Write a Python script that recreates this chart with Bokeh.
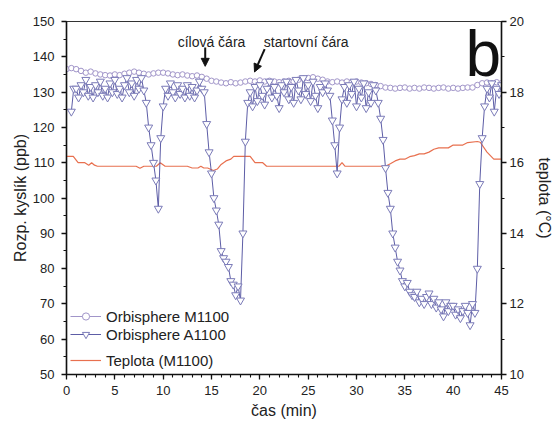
from bokeh.plotting import figure
from bokeh.models import (Range1d, LinearAxis, Legend, LegendItem, Arrow, NormalHead,
                          SingleIntervalTicker, Label)
from bokeh.embed import file_html
from bokeh.resources import INLINE

# ---------------- data ----------------
# Orbisphere M1100 (ppb), sampled every 0.5 min from 0 to 45
m1100_start = 0.0
m1100_step = 0.5
m1100 = [136.5, 136.8, 136.5, 136.0, 135.5, 135.8, 135.3, 135.0, 134.8, 134.7,
         135.0, 134.8, 135.2, 135.5, 135.8, 135.5, 135.2, 135.0, 135.3, 135.5,
         135.5, 135.3, 135.0, 134.8, 135.0, 134.7, 134.5, 134.7, 134.3, 133.8,
         133.2, 133.0, 132.7, 132.5, 132.8, 132.5, 132.7, 133.0, 133.2, 133.0,
         133.3, 133.0, 133.2, 133.0, 132.8, 133.0, 133.2, 133.0, 133.5, 133.8,
         134.0, 134.2, 133.8, 133.5, 133.0, 132.8, 133.0, 132.7, 133.0, 132.8,
         133.0, 132.7, 132.5, 132.3, 132.0, 131.7, 131.3, 131.2, 131.0, 131.2,
         131.3, 131.0, 131.2, 131.0, 131.3, 131.2, 131.0, 131.2, 131.3, 131.0,
         131.2, 131.0, 131.2, 131.3, 131.3, 132.0, 132.5, 132.7, 132.5, 132.8,
         132.5]

# Orbisphere A1100 (ppb), sampled every 0.25 min from 0.5 min
a1100_start = 0.5
a1100_step = 0.25
a1100 = [124.5, 131.0,
         131.0, 128.5, 132.0, 130.0,
         133.5, 129.0, 131.5, 128.5,
         132.0, 130.0, 133.0, 129.0,
         131.0, 128.5, 132.5, 130.0,
         133.5, 129.5, 131.0, 128.5,
         132.0, 134.0, 130.0, 132.5,
         129.0, 133.5, 131.0, 134.0,
         130.5, 127.0, 120.0, 115.0,
         110.0, 105.0, 97.0, 117.0,
         126.0, 131.0, 129.0, 132.5,
         130.0, 128.5, 132.0, 129.5,
         131.0, 128.5, 132.0, 129.0,
         131.5, 128.5, 130.5, 133.0,
         131.0, 130.0, 121.0, 113.0,
         107.0, 100.0, 96.5, 92.5,
         85.0, 83.0, 82.0, 80.5,
         76.5, 75.5, 72.5, 75.0,
         71.0, 90.0, 116.0, 127.0,
         130.0, 126.0, 131.5, 127.5,
         132.0, 129.0, 126.5, 131.0,
         133.0, 128.5, 131.5, 129.0,
         125.5, 132.0, 130.0, 133.0,
         128.0, 131.5, 127.0, 133.5,
         130.5, 128.0, 134.0, 129.5,
         132.0, 127.5, 133.0, 129.0,
         125.5, 131.5, 130.0, 132.5,
         130.5, 129.0, 122.0, 115.0,
         107.0, 120.0, 128.0, 131.5,
         127.0, 132.0, 129.5, 133.0,
         126.0, 131.0, 128.5, 132.5,
         125.5, 130.0, 127.0, 132.0,
         130.5, 127.0, 122.5, 116.5,
         108.5, 101.5, 97.0, 90.0,
         86.0, 82.0, 79.5, 76.5,
         75.0, 76.0, 73.5, 72.5,
         72.0, 73.5, 70.5, 71.5,
         70.0, 72.0, 73.0, 70.0,
         71.5, 69.0, 70.5, 68.5,
         66.5, 70.5, 68.0, 69.5,
         69.5, 67.0, 68.5, 66.0,
         68.0, 69.5, 67.5, 64.0,
         70.0, 67.5, 80.0, 104.0,
         117.0, 126.0, 131.0, 128.5,
         132.5, 124.5, 131.0, 129.5,
         132.0]

# Temperature (M1100), degC, breakpoints
temp_t = [0.0, 0.7, 1.2, 1.9, 2.3, 2.6, 2.9, 3.2, 7.2, 7.6,
          8.0, 9.3, 9.7, 10.2, 12.5, 13.0, 13.6, 13.9, 14.2, 14.6,
          15.2, 15.6, 16.0, 16.5, 17.0, 17.3, 19.0, 19.5, 20.3, 20.7,
          28.2, 28.5, 28.8, 33.0, 33.5, 34.0, 34.5, 35.0, 35.5, 36.0,
          36.5, 37.0, 37.5, 38.0, 38.5, 39.5, 40.0, 41.0, 41.5, 42.5,
          42.8, 43.5, 44.2, 45.0]
temp_v = [16.18, 16.18, 16.0, 16.0, 15.93, 16.0, 15.93, 15.9, 15.9, 15.84,
          15.9, 15.9, 16.0, 15.9, 15.9, 15.85, 15.85, 15.9, 15.85, 15.85,
          15.78, 15.82, 15.95, 16.05, 16.1, 16.18, 16.18, 16.0, 16.0, 15.9,
          15.9, 16.0, 15.9, 15.9, 15.97, 16.05, 16.1, 16.1, 16.17, 16.2,
          16.25, 16.25, 16.3, 16.38, 16.42, 16.42, 16.5, 16.5, 16.57, 16.6,
          16.58, 16.3, 16.1, 16.1]

m1100_t = [m1100_start + i * m1100_step for i in range(len(m1100))]
a1100_t = [a1100_start + i * a1100_step for i in range(len(a1100))]

FONT = "Liberation Sans"
C_M = "#a195c9"
C_A = "#5d5da6"
C_T = "#e8704f"

p = figure(width=555, height=425, output_backend="svg", toolbar_location=None,
           x_range=Range1d(0, 45), y_range=Range1d(50, 150),
           min_border_left=66, min_border_right=52, min_border_top=21,
           min_border_bottom=51)
p.extra_y_ranges = {"temp": Range1d(10, 20)}
p.grid.visible = False
p.outline_line_color = "#333333"
p.outline_line_width = 1.2
p.background_fill_color = "white"
p.border_fill_color = "white"

# temperature
rt = p.line(temp_t, temp_v, y_range_name="temp", line_color=C_T, line_width=1.2)

# M1100
rm_l = p.line(m1100_t, m1100, line_color=C_M, line_width=1)
rm_s = p.scatter(m1100_t, m1100, marker="circle", size=5.5, line_color=C_M,
                 fill_color="white", line_width=1)

# A1100
ra_l = p.line(a1100_t, a1100, line_color=C_A, line_width=1)
ra_s = p.scatter(a1100_t, a1100, marker="inverted_triangle", size=8, line_color="#7b7bb8",
                 fill_color="white", line_width=1)

# axes styling
def style_axis(ax, label, lab_standoff, axlab_standoff):
    ax.axis_label = label
    ax.axis_label_text_font = FONT
    ax.axis_label_text_font_size = "16px"
    ax.axis_label_text_font_style = "normal"
    ax.axis_label_text_color = "#222222"
    ax.major_label_text_font = FONT
    ax.major_label_text_font_size = "13px"
    ax.major_label_text_color = "#222222"
    ax.axis_line_color = "#111111"
    ax.axis_line_width = 1.5
    ax.major_tick_line_color = "#111111"
    ax.minor_tick_line_color = "#111111"
    ax.major_tick_line_width = 1.3
    ax.minor_tick_line_width = 1.1
    ax.major_tick_in = 0
    ax.major_tick_out = 5
    ax.minor_tick_in = 0
    ax.minor_tick_out = 3
    ax.major_label_standoff = lab_standoff
    ax.axis_label_standoff = axlab_standoff

xa = p.xaxis[0]
xa.ticker = SingleIntervalTicker(interval=5, num_minor_ticks=5)
style_axis(xa, "čas (min)", 6, 4)

ya = p.yaxis[0]
ya.ticker = SingleIntervalTicker(interval=10, num_minor_ticks=2)
style_axis(ya, "Rozp. kyslík (ppb)", 7, 1)

ra = LinearAxis(y_range_name="temp")
ra.ticker = SingleIntervalTicker(interval=2, num_minor_ticks=2)
style_axis(ra, "teplota (°C)", 3, 9)
p.add_layout(ra, "right")

# annotations
p.add_layout(Label(x=15.0, y=144.3, text="cílová čára", text_font=FONT,
                   text_font_size="14px", text_align="center", text_baseline="middle",
                   text_color="#222222"))
p.add_layout(Label(x=24.8, y=144.3, text="startovní čára", text_font=FONT,
                   text_font_size="14px", text_align="center", text_baseline="middle",
                   text_color="#222222"))
p.add_layout(Arrow(x_start=14.35, y_start=142.6, x_end=14.35, y_end=137.3,
                   line_color="#111111", line_width=2,
                   end=NormalHead(size=8, fill_color="#111111", line_color="#111111")))
p.add_layout(Arrow(x_start=20.5, y_start=142.2, x_end=19.45, y_end=135.7,
                   line_color="#111111", line_width=2,
                   end=NormalHead(size=8, fill_color="#111111", line_color="#111111")))
p.add_layout(Label(x=44.95, y=140.9, text="b", text_font=FONT, text_font_size="64px",
                   text_align="right", text_baseline="alphabetic", text_color="#111111"))

# legends
leg1 = Legend(items=[LegendItem(label="Orbisphere M1100", renderers=[rm_l, rm_s]),
                     LegendItem(label="Orbisphere A1100", renderers=[ra_l, ra_s])],
              location=(4, 31))
leg2 = Legend(items=[LegendItem(label="Teplota (M1100)", renderers=[rt])],
              location=(4, 5))
for lg in (leg1, leg2):
    lg.background_fill_alpha = 0
    lg.border_line_alpha = 0
    lg.label_text_font = FONT
    lg.label_text_font_size = "15px"
    lg.label_text_color = "#222222"
    lg.glyph_width = 31
    lg.glyph_height = 18
    lg.label_height = 18
    lg.label_standoff = 5
    lg.spacing = 0
    lg.padding = 0
    lg.margin = 0
    p.add_layout(lg)

open("out.html", "w").write(file_html(p, INLINE))
